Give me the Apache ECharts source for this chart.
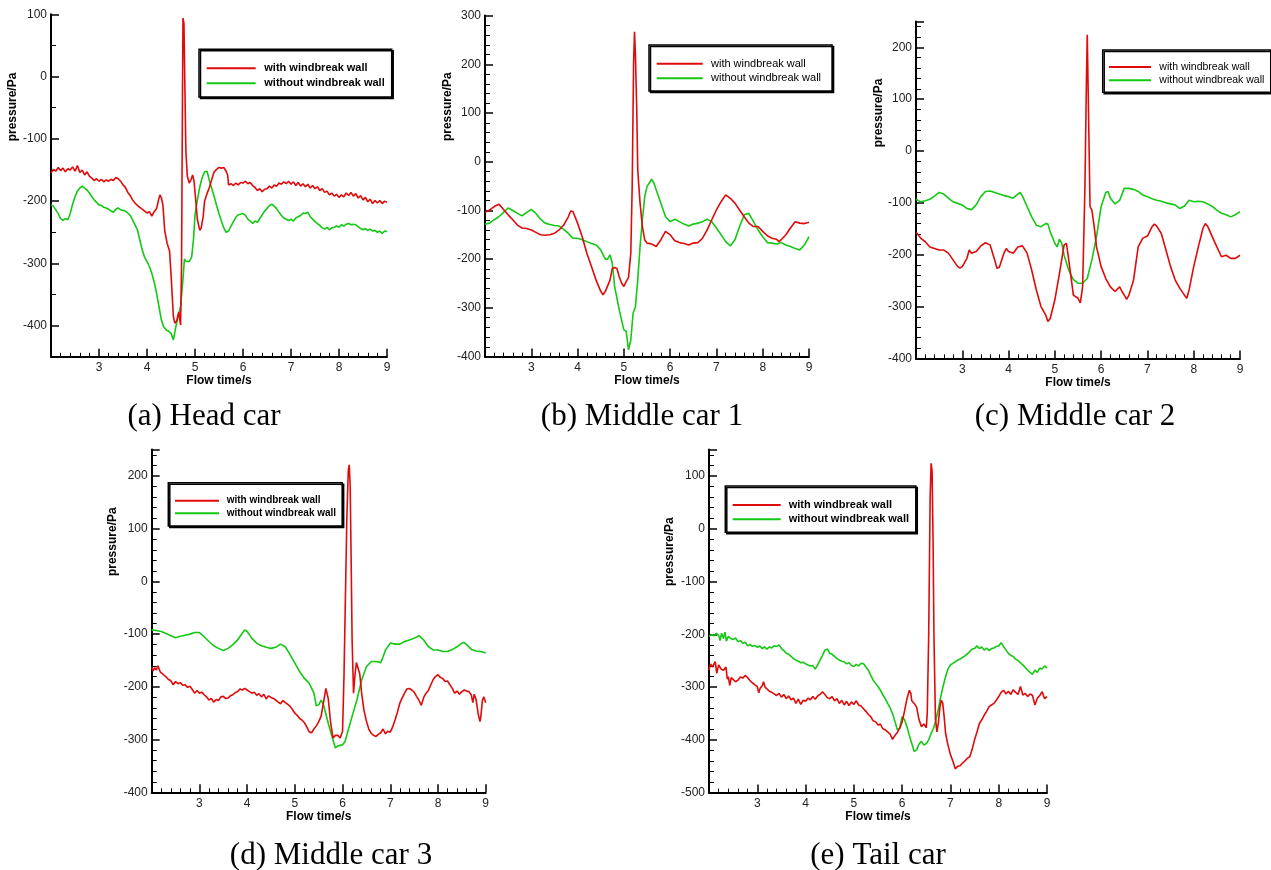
<!DOCTYPE html>
<html>
<head>
<meta charset="utf-8">
<script src="https://cdn.jsdelivr.net/npm/echarts@6/dist/echarts.min.js"></script>
<style>
html, body { margin: 0; padding: 0; background: #fff; }
#chart { width: 1271px; height: 870px; }
</style>
</head>
<body>
<div id="chart"></div>
<script>
// ---- data ----
var seriesNames = ['with windbreak wall', 'without windbreak wall'];
var captions = ['(a) Head car', '(b) Middle car 1', '(c) Middle car 2', '(d) Middle car 3', '(e) Tail car'];
var xTitle = 'Flow time/s';
var yTitle = 'pressure/Pa';

// (a) head car
var headWith = [[2.0,-155],[2.05,-149],[2.1,-152],[2.15,-146],[2.2,-151],[2.25,-147],[2.3,-153],[2.35,-148],[2.4,-150],[2.45,-145],[2.5,-152],[2.55,-143],[2.6,-154],[2.65,-150],[2.7,-158],[2.75,-153],[2.8,-160],[2.85,-163],[2.9,-167],[2.95,-164],[3.0,-168],[3.05,-165],[3.1,-169],[3.15,-166],[3.2,-168],[3.25,-165],[3.3,-167],[3.35,-162],[3.4,-164],[3.45,-168],[3.5,-174],[3.55,-178],[3.6,-186],[3.65,-191],[3.7,-198],[3.75,-203],[3.8,-207],[3.85,-210],[3.9,-213],[3.95,-216],[4.0,-219],[4.05,-217],[4.1,-224],[4.15,-217],[4.2,-212],[4.24,-198],[4.27,-190],[4.3,-195],[4.33,-205],[4.37,-248],[4.42,-268],[4.47,-280],[4.5,-316],[4.55,-386],[4.58,-396],[4.62,-392],[4.66,-378],[4.7,-399],[4.72,-300],[4.74,-20],[4.75,94],[4.77,85],[4.79,-20],[4.81,-120],[4.84,-160],[4.88,-171],[4.92,-165],[4.95,-158],[4.98,-168],[5.0,-185],[5.05,-230],[5.1,-247],[5.13,-243],[5.17,-225],[5.2,-200],[5.25,-188],[5.3,-178],[5.35,-165],[5.4,-153],[5.45,-149],[5.5,-146],[5.55,-147],[5.6,-146],[5.65,-152],[5.68,-158],[5.7,-174],[5.75,-172],[5.8,-175],[5.85,-171],[5.9,-174],[5.95,-170],[6.0,-171],[6.05,-168],[6.1,-172],[6.15,-170],[6.2,-175],[6.25,-178],[6.3,-183],[6.35,-180],[6.4,-185],[6.45,-181],[6.5,-180],[6.55,-176],[6.6,-179],[6.65,-174],[6.7,-176],[6.75,-171],[6.8,-173],[6.85,-169],[6.9,-172],[6.95,-168],[7.0,-173],[7.05,-169],[7.1,-175],[7.15,-170],[7.2,-176],[7.25,-172],[7.3,-177],[7.35,-173],[7.4,-179],[7.45,-175],[7.5,-180],[7.55,-177],[7.6,-183],[7.65,-180],[7.7,-186],[7.75,-184],[7.8,-190],[7.85,-187],[7.9,-192],[7.95,-189],[8.0,-194],[8.05,-190],[8.1,-193],[8.15,-187],[8.2,-191],[8.25,-186],[8.3,-192],[8.35,-188],[8.4,-195],[8.45,-191],[8.5,-198],[8.55,-194],[8.6,-201],[8.65,-197],[8.7,-204],[8.75,-199],[8.8,-203],[8.85,-199],[8.9,-204],[8.95,-200],[9.0,-202]];
var headWithout = [[2.0,-206],[2.05,-208],[2.1,-214],[2.15,-220],[2.2,-228],[2.25,-231],[2.3,-228],[2.35,-230],[2.4,-220],[2.45,-205],[2.5,-193],[2.55,-184],[2.6,-179],[2.65,-176],[2.7,-179],[2.75,-182],[2.8,-187],[2.85,-193],[2.9,-198],[2.95,-202],[3.0,-206],[3.05,-207],[3.1,-210],[3.15,-211],[3.2,-213],[3.25,-216],[3.3,-218],[3.35,-213],[3.4,-211],[3.45,-214],[3.5,-215],[3.55,-216],[3.6,-219],[3.65,-223],[3.7,-230],[3.75,-238],[3.8,-246],[3.85,-262],[3.9,-278],[3.95,-290],[4.0,-297],[4.05,-305],[4.1,-316],[4.15,-330],[4.2,-348],[4.25,-370],[4.3,-391],[4.35,-402],[4.4,-407],[4.45,-409],[4.5,-412],[4.55,-423],[4.6,-402],[4.65,-385],[4.7,-369],[4.75,-325],[4.78,-293],[4.82,-297],[4.88,-297],[4.93,-290],[4.97,-260],[5.0,-222],[5.05,-198],[5.1,-177],[5.15,-162],[5.2,-153],[5.25,-152],[5.3,-167],[5.35,-180],[5.4,-193],[5.45,-207],[5.5,-220],[5.55,-232],[5.6,-243],[5.65,-250],[5.7,-248],[5.75,-240],[5.8,-233],[5.85,-226],[5.9,-222],[5.95,-221],[6.0,-220],[6.05,-223],[6.1,-229],[6.15,-232],[6.2,-236],[6.25,-232],[6.3,-234],[6.35,-228],[6.4,-222],[6.45,-216],[6.5,-212],[6.55,-207],[6.6,-205],[6.65,-208],[6.7,-212],[6.75,-218],[6.8,-223],[6.85,-227],[6.9,-229],[6.95,-231],[7.0,-229],[7.05,-232],[7.1,-227],[7.15,-225],[7.2,-223],[7.25,-219],[7.3,-220],[7.35,-218],[7.4,-225],[7.45,-229],[7.5,-233],[7.55,-236],[7.6,-239],[7.65,-243],[7.7,-245],[7.75,-242],[7.8,-246],[7.85,-243],[7.9,-242],[7.95,-240],[8.0,-242],[8.05,-238],[8.1,-240],[8.15,-237],[8.2,-236],[8.25,-238],[8.3,-237],[8.35,-238],[8.4,-241],[8.45,-244],[8.5,-246],[8.55,-244],[8.6,-247],[8.65,-245],[8.7,-248],[8.75,-247],[8.8,-250],[8.85,-248],[8.9,-252],[8.95,-248],[9.0,-249]];

// (b) middle car 1
var mid1With = [[2.0,-104],[2.1,-99],[2.2,-92],[2.3,-87],[2.4,-98],[2.5,-109],[2.6,-119],[2.7,-130],[2.8,-136],[2.9,-137],[3.0,-140],[3.1,-145],[3.2,-150],[3.3,-151],[3.4,-150],[3.5,-147],[3.6,-140],[3.7,-130],[3.8,-113],[3.85,-101],[3.9,-102],[4.0,-126],[4.1,-154],[4.2,-188],[4.3,-215],[4.4,-243],[4.5,-266],[4.55,-273],[4.6,-266],[4.7,-243],[4.75,-219],[4.8,-217],[4.85,-219],[4.9,-236],[4.95,-249],[5.0,-256],[5.05,-246],[5.1,-238],[5.15,-188],[5.18,-51],[5.21,200],[5.23,267],[5.25,220],[5.28,100],[5.3,-17],[5.35,-85],[5.4,-133],[5.45,-160],[5.5,-167],[5.6,-169],[5.7,-174],[5.8,-160],[5.9,-143],[6.0,-150],[6.1,-162],[6.2,-166],[6.3,-168],[6.4,-171],[6.5,-167],[6.6,-166],[6.7,-157],[6.8,-140],[6.9,-119],[7.0,-99],[7.1,-82],[7.2,-68],[7.3,-75],[7.4,-85],[7.5,-99],[7.6,-113],[7.7,-126],[7.8,-133],[7.9,-133],[8.0,-143],[8.1,-152],[8.2,-157],[8.3,-159],[8.35,-164],[8.4,-160],[8.5,-150],[8.6,-136],[8.7,-123],[8.8,-126],[8.9,-127],[9.0,-124]];
var mid1Without = [[2.0,-128],[2.1,-126],[2.2,-119],[2.3,-113],[2.4,-104],[2.5,-95],[2.6,-100],[2.7,-106],[2.8,-111],[2.9,-104],[3.0,-98],[3.1,-106],[3.2,-118],[3.3,-126],[3.4,-129],[3.5,-131],[3.6,-132],[3.7,-139],[3.8,-147],[3.9,-157],[4.0,-157],[4.1,-160],[4.2,-164],[4.3,-168],[4.4,-171],[4.5,-181],[4.6,-200],[4.65,-200],[4.7,-191],[4.75,-208],[4.8,-256],[4.9,-304],[5.0,-345],[5.05,-348],[5.1,-386],[5.15,-366],[5.2,-311],[5.25,-297],[5.3,-243],[5.35,-174],[5.4,-119],[5.45,-72],[5.5,-51],[5.6,-36],[5.65,-44],[5.7,-58],[5.8,-85],[5.9,-113],[6.0,-123],[6.1,-118],[6.2,-123],[6.3,-128],[6.4,-132],[6.5,-128],[6.6,-126],[6.7,-123],[6.8,-118],[6.9,-123],[7.0,-136],[7.1,-150],[7.2,-164],[7.3,-173],[7.4,-160],[7.5,-133],[7.6,-109],[7.7,-106],[7.8,-123],[7.9,-140],[8.0,-154],[8.1,-166],[8.2,-167],[8.3,-169],[8.4,-166],[8.5,-171],[8.6,-174],[8.7,-178],[8.8,-181],[8.9,-171],[9.0,-154]];

// (c) middle car 2
var mid2With = [[2.0,-156],[2.1,-168],[2.2,-175],[2.3,-185],[2.4,-188],[2.5,-191],[2.6,-191],[2.7,-197],[2.8,-210],[2.9,-223],[2.95,-226],[3.0,-223],[3.1,-207],[3.15,-191],[3.2,-197],[3.3,-194],[3.4,-183],[3.5,-177],[3.6,-181],[3.7,-210],[3.75,-226],[3.8,-224],[3.9,-197],[3.95,-188],[4.0,-194],[4.1,-197],[4.2,-185],[4.3,-183],[4.4,-197],[4.5,-230],[4.6,-268],[4.7,-300],[4.8,-316],[4.85,-329],[4.9,-323],[5.0,-287],[5.1,-236],[5.2,-181],[5.25,-178],[5.3,-210],[5.4,-278],[5.5,-284],[5.55,-293],[5.6,-262],[5.65,-69],[5.68,124],[5.7,224],[5.73,60],[5.76,-107],[5.8,-114],[5.85,-146],[5.9,-185],[6.0,-223],[6.1,-246],[6.2,-262],[6.3,-271],[6.4,-262],[6.45,-271],[6.5,-278],[6.55,-286],[6.6,-278],[6.7,-249],[6.8,-185],[6.9,-168],[7.0,-164],[7.1,-146],[7.15,-141],[7.2,-145],[7.3,-159],[7.4,-191],[7.5,-223],[7.6,-249],[7.7,-265],[7.8,-278],[7.85,-284],[7.9,-268],[8.0,-223],[8.1,-185],[8.2,-149],[8.25,-140],[8.3,-145],[8.4,-165],[8.5,-185],[8.6,-204],[8.7,-201],[8.8,-207],[8.9,-207],[9.0,-201]];
var mid2Without = [[2.0,-93],[2.1,-98],[2.2,-96],[2.3,-93],[2.4,-87],[2.5,-80],[2.6,-83],[2.7,-91],[2.8,-98],[2.9,-101],[3.0,-104],[3.1,-111],[3.2,-113],[3.3,-104],[3.4,-88],[3.5,-78],[3.6,-77],[3.7,-80],[3.8,-83],[3.9,-86],[4.0,-88],[4.1,-91],[4.2,-83],[4.25,-80],[4.3,-87],[4.4,-107],[4.5,-127],[4.6,-143],[4.7,-146],[4.8,-140],[4.85,-141],[4.9,-156],[5.0,-178],[5.05,-185],[5.1,-170],[5.15,-178],[5.2,-201],[5.3,-230],[5.4,-248],[5.5,-255],[5.6,-255],[5.7,-246],[5.8,-210],[5.9,-165],[6.0,-107],[6.1,-80],[6.15,-78],[6.2,-91],[6.3,-102],[6.4,-95],[6.5,-72],[6.6,-72],[6.7,-74],[6.8,-78],[6.9,-85],[7.0,-88],[7.1,-92],[7.2,-95],[7.3,-97],[7.4,-100],[7.5,-102],[7.6,-104],[7.7,-111],[7.8,-106],[7.9,-95],[8.0,-98],[8.1,-97],[8.2,-98],[8.3,-102],[8.4,-107],[8.5,-114],[8.6,-120],[8.7,-123],[8.8,-127],[8.9,-123],[9.0,-117]];

// (d) middle car 3
var mid3With = [[2.0,-162],[2.03,-170],[2.06,-164],[2.1,-168],[2.13,-160],[2.15,-158],[2.18,-172],[2.2,-174],[2.25,-177],[2.3,-181],[2.35,-186],[2.4,-188],[2.45,-196],[2.5,-190],[2.55,-194],[2.6,-192],[2.65,-197],[2.7,-196],[2.75,-201],[2.8,-199],[2.85,-205],[2.9,-212],[2.95,-207],[3.0,-212],[3.05,-210],[3.1,-215],[3.15,-219],[3.2,-225],[3.25,-222],[3.3,-229],[3.35,-224],[3.4,-226],[3.45,-219],[3.5,-218],[3.55,-222],[3.6,-221],[3.65,-217],[3.7,-215],[3.75,-211],[3.8,-209],[3.85,-204],[3.9,-206],[3.95,-203],[4.0,-206],[4.05,-209],[4.1,-212],[4.15,-210],[4.2,-216],[4.25,-213],[4.3,-219],[4.35,-214],[4.4,-223],[4.45,-217],[4.5,-220],[4.55,-222],[4.6,-225],[4.65,-229],[4.7,-232],[4.75,-226],[4.8,-230],[4.85,-233],[4.9,-237],[4.95,-243],[5.0,-250],[5.05,-254],[5.1,-260],[5.15,-263],[5.2,-268],[5.25,-276],[5.3,-285],[5.35,-287],[5.4,-280],[5.45,-274],[5.5,-266],[5.55,-256],[5.6,-230],[5.65,-203],[5.7,-222],[5.75,-268],[5.8,-297],[5.85,-292],[5.9,-292],[5.95,-297],[6.0,-284],[6.03,-180],[6.06,-30],[6.09,120],[6.12,210],[6.14,221],[6.16,180],[6.18,40],[6.2,-110],[6.23,-212],[6.26,-178],[6.29,-154],[6.32,-156],[6.36,-175],[6.4,-212],[6.45,-245],[6.5,-265],[6.55,-280],[6.6,-288],[6.65,-292],[6.7,-294],[6.75,-290],[6.8,-287],[6.85,-280],[6.9,-289],[6.95,-284],[7.0,-286],[7.05,-276],[7.1,-263],[7.15,-248],[7.2,-231],[7.25,-221],[7.3,-212],[7.35,-204],[7.4,-203],[7.45,-206],[7.5,-210],[7.55,-218],[7.6,-225],[7.65,-235],[7.7,-220],[7.75,-212],[7.8,-207],[7.85,-196],[7.9,-186],[7.95,-180],[8.0,-177],[8.05,-182],[8.1,-184],[8.15,-190],[8.2,-189],[8.25,-196],[8.3,-203],[8.35,-212],[8.4,-208],[8.45,-214],[8.5,-209],[8.55,-206],[8.6,-208],[8.65,-209],[8.7,-216],[8.73,-230],[8.76,-214],[8.8,-225],[8.84,-250],[8.88,-266],[8.9,-255],[8.93,-226],[8.96,-219],[9.0,-230]];
var mid3Without = [[2.0,-92],[2.1,-93],[2.2,-95],[2.3,-99],[2.4,-103],[2.5,-107],[2.6,-104],[2.7,-102],[2.8,-100],[2.9,-97],[3.0,-97],[3.1,-105],[3.2,-114],[3.3,-122],[3.4,-127],[3.5,-131],[3.6,-127],[3.7,-120],[3.8,-111],[3.9,-98],[3.95,-92],[4.0,-95],[4.1,-108],[4.2,-117],[4.3,-122],[4.4,-125],[4.5,-127],[4.6,-125],[4.7,-119],[4.8,-124],[4.9,-139],[5.0,-155],[5.1,-171],[5.2,-184],[5.3,-193],[5.4,-212],[5.45,-236],[5.5,-234],[5.55,-225],[5.6,-234],[5.7,-269],[5.8,-301],[5.85,-316],[5.9,-312],[6.0,-310],[6.05,-304],[6.1,-288],[6.2,-256],[6.3,-225],[6.4,-187],[6.5,-162],[6.6,-152],[6.7,-152],[6.8,-154],[6.85,-143],[6.9,-130],[7.0,-117],[7.1,-119],[7.2,-119],[7.3,-114],[7.4,-111],[7.5,-108],[7.6,-103],[7.7,-111],[7.8,-124],[7.9,-130],[8.0,-130],[8.1,-133],[8.2,-133],[8.3,-129],[8.4,-124],[8.5,-117],[8.55,-116],[8.6,-120],[8.7,-129],[8.8,-132],[8.9,-133],[9.0,-136]];

// (e) tail car
var tailWith = [[2.0,-268],[2.03,-256],[2.07,-262],[2.1,-261],[2.13,-252],[2.16,-274],[2.2,-258],[2.25,-266],[2.3,-268],[2.35,-262],[2.38,-285],[2.4,-280],[2.43,-297],[2.46,-282],[2.5,-283],[2.55,-290],[2.6,-287],[2.65,-281],[2.7,-283],[2.75,-278],[2.8,-282],[2.85,-288],[2.9,-292],[2.95,-296],[3.0,-299],[3.03,-311],[3.06,-302],[3.1,-298],[3.13,-290],[3.16,-300],[3.2,-302],[3.25,-308],[3.3,-310],[3.35,-313],[3.4,-316],[3.45,-312],[3.5,-319],[3.55,-314],[3.6,-322],[3.65,-317],[3.7,-324],[3.75,-321],[3.8,-331],[3.85,-323],[3.9,-333],[3.95,-325],[4.0,-327],[4.05,-321],[4.1,-324],[4.15,-318],[4.2,-323],[4.25,-317],[4.3,-314],[4.35,-309],[4.4,-314],[4.45,-320],[4.5,-322],[4.55,-318],[4.6,-326],[4.65,-322],[4.7,-331],[4.75,-325],[4.8,-334],[4.85,-327],[4.9,-335],[4.95,-328],[5.0,-333],[5.05,-326],[5.1,-334],[5.15,-336],[5.2,-341],[5.25,-346],[5.3,-352],[5.35,-356],[5.4,-364],[5.45,-366],[5.5,-372],[5.55,-370],[5.6,-379],[5.65,-381],[5.7,-385],[5.75,-389],[5.8,-399],[5.85,-392],[5.9,-386],[5.95,-378],[6.0,-366],[6.05,-345],[6.1,-322],[6.15,-306],[6.18,-312],[6.2,-326],[6.25,-331],[6.3,-338],[6.35,-362],[6.4,-375],[6.45,-370],[6.5,-377],[6.52,-350],[6.55,-200],[6.58,60],[6.6,124],[6.62,110],[6.64,-20],[6.66,-211],[6.69,-360],[6.72,-385],[6.75,-368],[6.78,-340],[6.81,-325],[6.84,-330],[6.87,-356],[6.9,-388],[6.95,-410],[7.0,-428],[7.05,-440],[7.1,-455],[7.15,-450],[7.2,-449],[7.25,-444],[7.3,-440],[7.35,-435],[7.4,-432],[7.45,-418],[7.5,-400],[7.55,-385],[7.6,-369],[7.65,-362],[7.7,-353],[7.75,-346],[7.8,-337],[7.85,-334],[7.9,-331],[7.95,-325],[8.0,-318],[8.05,-310],[8.1,-306],[8.15,-313],[8.2,-308],[8.25,-314],[8.3,-305],[8.35,-310],[8.4,-314],[8.45,-299],[8.5,-315],[8.55,-312],[8.6,-318],[8.65,-313],[8.7,-316],[8.75,-334],[8.8,-321],[8.85,-316],[8.9,-309],[8.95,-322],[9.0,-318]];
var tailWithout = [[2.0,-204],[2.05,-201],[2.1,-203],[2.15,-198],[2.2,-202],[2.23,-212],[2.26,-198],[2.3,-208],[2.33,-196],[2.36,-213],[2.4,-204],[2.45,-208],[2.5,-210],[2.55,-207],[2.6,-214],[2.65,-212],[2.7,-217],[2.75,-215],[2.8,-222],[2.85,-219],[2.9,-223],[2.95,-221],[3.0,-225],[3.05,-222],[3.1,-227],[3.15,-224],[3.2,-228],[3.25,-224],[3.3,-226],[3.35,-222],[3.4,-223],[3.45,-220],[3.5,-227],[3.55,-231],[3.6,-236],[3.65,-238],[3.7,-242],[3.75,-246],[3.8,-249],[3.85,-251],[3.9,-254],[3.95,-253],[4.0,-256],[4.05,-258],[4.1,-260],[4.15,-259],[4.2,-266],[4.25,-258],[4.3,-249],[4.35,-240],[4.4,-230],[4.45,-228],[4.5,-236],[4.55,-238],[4.6,-242],[4.65,-246],[4.7,-249],[4.75,-251],[4.8,-252],[4.85,-256],[4.9,-254],[4.95,-259],[5.0,-261],[5.05,-257],[5.1,-260],[5.15,-255],[5.2,-256],[5.25,-262],[5.3,-268],[5.35,-278],[5.4,-287],[5.45,-293],[5.5,-299],[5.55,-306],[5.6,-315],[5.65,-322],[5.7,-331],[5.75,-339],[5.8,-350],[5.85,-365],[5.9,-381],[5.95,-378],[6.0,-356],[6.05,-362],[6.1,-375],[6.15,-392],[6.2,-407],[6.25,-422],[6.3,-419],[6.35,-408],[6.4,-403],[6.45,-410],[6.5,-407],[6.55,-400],[6.6,-388],[6.65,-378],[6.7,-362],[6.75,-342],[6.8,-318],[6.85,-298],[6.9,-280],[6.95,-266],[7.0,-258],[7.05,-255],[7.1,-252],[7.15,-249],[7.2,-247],[7.25,-244],[7.3,-241],[7.35,-237],[7.4,-233],[7.45,-228],[7.5,-227],[7.55,-222],[7.6,-227],[7.65,-224],[7.7,-230],[7.75,-226],[7.8,-231],[7.85,-227],[7.9,-226],[7.95,-223],[8.0,-222],[8.05,-216],[8.1,-223],[8.15,-230],[8.2,-236],[8.25,-240],[8.3,-242],[8.35,-247],[8.4,-250],[8.45,-254],[8.5,-258],[8.55,-263],[8.6,-268],[8.65,-272],[8.7,-276],[8.75,-268],[8.8,-272],[8.85,-264],[8.9,-266],[8.95,-260],[9.0,-264]];

var withData = [headWith, mid1With, mid2With, mid3With, tailWith];
var withoutData = [headWithout, mid1Without, mid2Without, mid3Without, tailWithout];

// ---- layout of the five panels (pixels) ----
var panels = [
    { grid: { left: 51, top: 14.3, width: 336, height: 342.5 }, yMin: -450, yMax: 100, minor: 2,
      legend: { left: 199, top: 49.3, font: 11, bold: true, line: 49, gap: 15, pad: [12.5, 7, 7.2, 7.7], textPad: 3.6 },
      yName: [13, 107], caption: [204, 417] },
    { grid: { left: 485, top: 15.6, width: 324, height: 341 }, yMin: -400, yMax: 300, minor: 5,
      legend: { left: 649, top: 45, font: 11, bold: false, line: 46, gap: 14.6, pad: [12.2, 11, 6.2, 7.7], textPad: 3.3 },
      yName: [447.7, 106.7], caption: [642, 417] },
    { grid: { left: 916, top: 21.4, width: 324, height: 337 }, yMin: -400, yMax: 250, minor: 5,
      legend: { left: 1102.7, top: 50, font: 10.5, bold: false, line: 42, gap: 13.3, pad: [10.7, 6.4, 5.7, 6.3], textPad: 3.3 },
      yName: [879, 113], caption: [1075, 417] },
    { grid: { left: 151.7, top: 449.6, width: 334, height: 342.7 }, yMin: -400, yMax: 250, minor: 5,
      legend: { left: 168.3, top: 482.7, font: 10, bold: true, line: 44, gap: 12.6, pad: [12, 6, 6.7, 6.7], textPad: 2.7 },
      yName: [113, 541.7], caption: [331, 856] },
    { grid: { left: 709, top: 449.6, width: 338, height: 343 }, yMin: -500, yMax: 150, minor: 5,
      legend: { left: 725.3, top: 486, font: 11, bold: true, line: 48, gap: 14.3, pad: [12.5, 6.7, 6.5, 7.4], textPad: 3 },
      yName: [670, 551.7], caption: [878, 856] }
];

var RED = '#e00a0a';
var GREEN = '#14c814';
var SANS = '"Liberation Sans", Arial, sans-serif';

var chart = echarts.init(document.getElementById('chart'));

var grids = [], xAxes = [], yAxes = [], series = [], legends = [], graphics = [];

panels.forEach(function (p, i) {
    grids.push(p.grid);

    xAxes.push({
        gridIndex: i,
        type: 'value',
        min: 2,
        max: 9,
        interval: 1,
        name: xTitle,
        nameLocation: 'middle',
        nameGap: 17,
        nameTextStyle: { fontFamily: SANS, fontWeight: 'bold', fontSize: 12, color: '#000', verticalAlign: 'top' },
        axisLine: { onZero: false, lineStyle: { color: '#000', width: 2 } },
        axisTick: { inside: true, length: 8, lineStyle: { color: '#000', width: 1.5 } },
        minorTick: { show: true, splitNumber: 5, length: 4, lineStyle: { color: '#000', width: 1 } },
        axisLabel: { showMinLabel: false, margin: 5, fontFamily: SANS, fontSize: 12, color: '#222' },
        splitLine: { show: false }
    });

    var y = {
        gridIndex: i,
        type: 'value',
        min: p.yMin,
        max: p.yMax,
        axisLine: { onZero: false, lineStyle: { color: '#000', width: 2 } },
        axisTick: { inside: true, length: 8, lineStyle: { color: '#000', width: 1.5 } },
        minorTick: { show: true, splitNumber: p.minor, length: 5, lineStyle: { color: '#000', width: 1 } },
        axisLabel: { margin: 4, fontFamily: SANS, fontSize: 12, color: '#222' },
        splitLine: { show: false }
    };
    if (p.yMin % 100 === 0) {
        y.interval = 100;
    } else {
        // head car: min -450, let the nice ticks fall on hundreds
        y.splitNumber = 5;
        y.axisLabel.showMinLabel = false;
    }
    if (p.yMax % 100 !== 0) {
        y.axisLabel.showMaxLabel = false;
    }
    yAxes.push(y);

    series.push({
        name: seriesNames[0], type: 'line', xAxisIndex: i, yAxisIndex: i,
        data: withData[i], showSymbol: false, color: RED, z: 3,
        lineStyle: { width: 1.6, color: RED }
    });
    series.push({
        name: seriesNames[1], type: 'line', xAxisIndex: i, yAxisIndex: i,
        data: withoutData[i], showSymbol: false, color: GREEN, z: 2,
        lineStyle: { width: 1.6, color: GREEN }
    });

    var L = p.legend;
    legends.push({
        data: seriesNames,
        orient: 'vertical',
        left: L.left,
        top: L.top,
        padding: L.pad,
        itemGap: L.gap - (L.font + 2),
        itemWidth: L.line,
        itemHeight: 2,
        icon: 'rect',
        backgroundColor: '#fff',
        borderColor: '#000',
        borderWidth: 1.5,
        shadowColor: '#000',
        shadowOffsetX: 1.5,
        shadowOffsetY: 1.5,
        shadowBlur: 0,
        selectedMode: false,
        textStyle: {
            fontFamily: SANS,
            fontSize: L.font,
            fontWeight: L.bold ? 'bold' : 'normal',
            color: '#000',
            lineHeight: L.font + 2,
            padding: [0, 0, 0, L.textPad]
        }
    });

    graphics.push({
        type: 'text',
        x: p.yName[0],
        y: p.yName[1],
        rotation: Math.PI / 2,
        style: {
            text: yTitle,
            font: 'bold 12px ' + SANS,
            fill: '#000',
            textAlign: 'center',
            textVerticalAlign: 'middle'
        }
    });
    graphics.push({
        type: 'text',
        x: p.caption[0],
        y: p.caption[1],
        style: {
            text: captions[i],
            font: '31px "Liberation Serif", "Times New Roman", serif',
            fill: '#000',
            textAlign: 'center',
            textVerticalAlign: 'middle'
        }
    });
});

chart.setOption({
    animation: false,
    backgroundColor: '#fff',
    grid: grids,
    xAxis: xAxes,
    yAxis: yAxes,
    legend: legends,
    series: series,
    graphic: graphics
});
</script>
</body>
</html>
